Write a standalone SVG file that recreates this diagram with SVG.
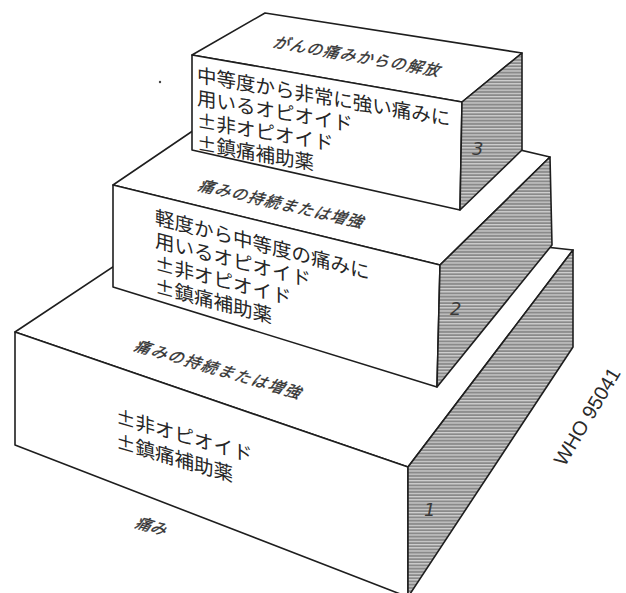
<svg xmlns="http://www.w3.org/2000/svg" width="626" height="593" viewBox="0 0 626 593">
<style>
.edge{stroke:#1e1e1e;stroke-width:1.6;stroke-linejoin:round}
.face{fill:#ffffff}
.side{fill:url(#hatch)}
.body{font-family:"Noto Sans CJK JP","Noto Sans",sans-serif;font-size:19.5px;fill:#262626}
.lab{font-family:"Noto Sans CJK JP","Noto Sans",sans-serif;font-size:15.5px;fill:#333;stroke:#333;stroke-width:0.35}
.num{font-family:"DejaVu Sans",sans-serif;font-size:18px;font-style:italic;fill:#3a3a3a}
.who{font-family:"Liberation Sans",Arial,sans-serif;font-size:20px;fill:#2a2a2a}
</style>
<defs>
<pattern id="hatch" width="8" height="3.2" patternUnits="userSpaceOnUse">
<rect width="8" height="3.2" fill="#8a8a8a"/>
<rect y="0" width="8" height="1.2" fill="#d2d2d2"/>
</pattern>
</defs>

<g id="step1">
<polygon class="face edge" points="15,332 408,467 573,250 200,209"/>
<polygon class="face edge" points="15,332 408,467 408,597 15,445"/>
<polygon class="side edge" points="408,467 573,250 573,347 408,597"/>
<text class="lab" transform="translate(133,350) rotate(16.4) skewX(-20)" textLength="172" lengthAdjust="spacing">痛みの持続または増強</text>
<g transform="translate(116,423) skewY(16.2)">
<text class="body" x="0" y="0">±非オピオイド</text>
<text class="body" x="0" y="25">±鎮痛補助薬</text>
</g>
<text class="num" x="424" y="516">1</text>
<text class="lab" transform="translate(134,527) rotate(16) skewX(-20)">痛み</text>
</g>

<g id="step2">
<polygon class="face edge" points="113,185 440,265 550,157 256,88"/>
<polygon class="face edge" points="113,185 440,265 437,387 113,287"/>
<polygon class="side edge" points="440,265 550,157 552,245 437,387"/>
<text class="lab" transform="translate(197,190) rotate(13) skewX(-20)" textLength="168" lengthAdjust="spacing">痛みの持続または増強</text>
<g transform="translate(155,224) skewY(14.5)">
<text class="body" x="0" y="0">軽度から中等度の痛みに</text>
<text class="body" x="0" y="23">用いるオピオイド</text>
<text class="body" x="0" y="46">±非オピオイド</text>
<text class="body" x="0" y="69">±鎮痛補助薬</text>
</g>
<text class="num" x="450" y="315">2</text>
</g>

<g id="step3">
<polygon class="face edge" points="192,55 462,102 522,53 265,13"/>
<polygon class="face edge" points="192,55 462,102 460,210 192,150"/>
<polygon class="side edge" points="462,102 522,53 522,150 460,210"/>
<text class="lab" transform="translate(272,47) rotate(10) skewX(-20)" textLength="168" lengthAdjust="spacing">がんの痛みからの解放</text>
<g transform="translate(197,82) skewY(9.8)">
<text class="body" x="0" y="0">中等度から非常に強い痛みに</text>
<text class="body" x="0" y="22.7">用いるオピオイド</text>
<text class="body" x="0" y="45.4">±非オピオイド</text>
<text class="body" x="0" y="68">±鎮痛補助薬</text>
</g>
<text class="num" x="472" y="155">3</text>
</g>

<circle id="speck" cx="160" cy="82" r="1.2" fill="#444"/>
<g id="credit">
<text class="who" transform="translate(593,420) rotate(-59)" text-anchor="middle">WHO 95041</text>
</g>
</svg>
